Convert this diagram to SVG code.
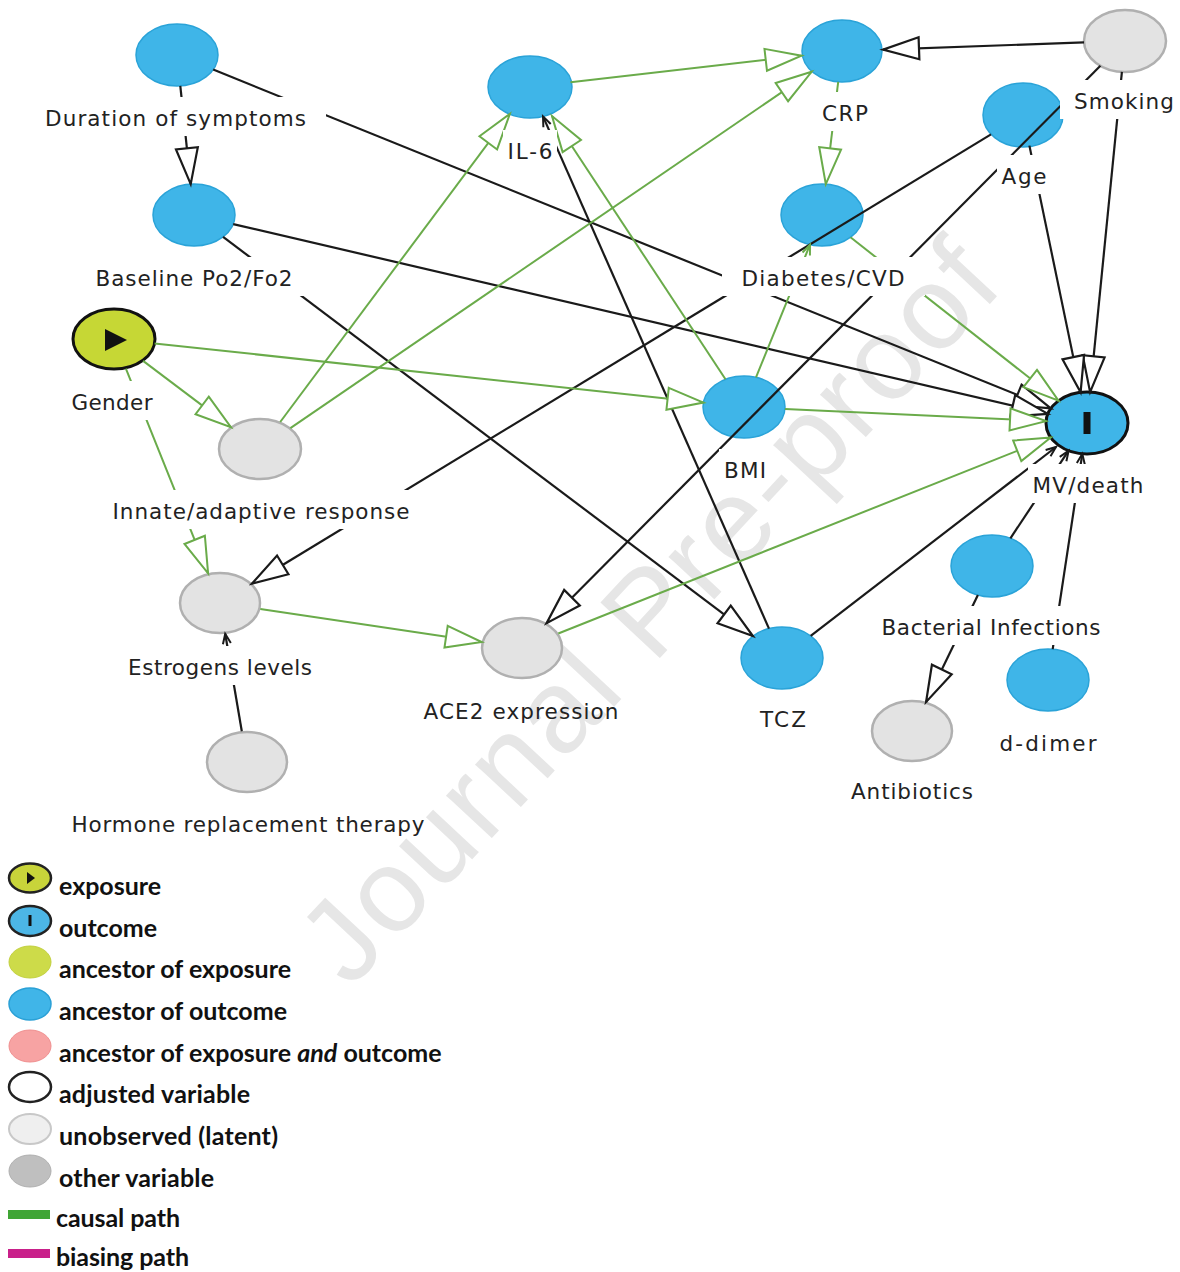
<svg xmlns="http://www.w3.org/2000/svg" width="1180" height="1272" viewBox="0 0 1180 1272">
<style>
.eb{stroke:#1a1a1a;stroke-width:2.2;fill:none}
.eg{stroke:#6aab4a;stroke-width:2;fill:none}
.nb{fill:#3fb5e8;stroke:#2aa3d8;stroke-width:1.5}
.nl{fill:#e3e3e3;stroke:#b0b0b0;stroke-width:2.5}
.bg{fill:#fff}
.lab{font-family:"DejaVu Sans",sans-serif;font-size:21.5px;fill:#222;text-anchor:middle}
.leg{font-family:Lato,"Liberation Sans",sans-serif;font-weight:700;font-size:25px;fill:#111}
</style>
<defs>
<marker id="ab" markerUnits="userSpaceOnUse" markerWidth="40" markerHeight="28" refX="36" refY="11" orient="auto" overflow="visible"><path d="M0,0 L36,11 L0,22 Z" fill="#fff" stroke="#1a1a1a" stroke-width="2.2"/></marker>
<marker id="ag" markerUnits="userSpaceOnUse" markerWidth="40" markerHeight="28" refX="36" refY="11" orient="auto" overflow="visible"><path d="M0,0 L36,11 L0,22 Z" fill="#fff" stroke="#6aab4a" stroke-width="2"/></marker>
<marker id="sb" markerUnits="userSpaceOnUse" markerWidth="12" markerHeight="10" refX="10" refY="4" orient="auto" overflow="visible"><path d="M0,0 L10,4 L0,8" fill="none" stroke="#1a1a1a" stroke-width="2"/></marker>
<marker id="sg" markerUnits="userSpaceOnUse" markerWidth="12" markerHeight="10" refX="10" refY="4" orient="auto" overflow="visible"><path d="M0,0 L10,4 L0,8" fill="none" stroke="#6aab4a" stroke-width="2"/></marker>
<mask id="labelMask" maskUnits="userSpaceOnUse" x="0" y="0" width="1180" height="1272">
<rect x="0" y="0" width="1180" height="1272" fill="#fff"/>
<g fill="#000">
<rect x="25" y="97" width="301" height="39"/>
<rect x="76" y="257" width="237" height="39"/>
<rect x="55" y="381" width="110" height="39"/>
<rect x="93" y="490" width="337" height="39"/>
<rect x="108" y="646" width="224" height="39"/>
<rect x="52" y="803" width="393" height="39"/>
<rect x="503" y="130" width="54" height="39"/>
<rect x="817" y="92" width="56" height="39"/>
<rect x="1060" y="80" width="120" height="39"/>
<rect x="997" y="155" width="55" height="39"/>
<rect x="722" y="257" width="203" height="39"/>
<rect x="719" y="449" width="52" height="39"/>
<rect x="1028" y="464" width="121" height="39"/>
<rect x="867" y="606" width="249" height="39"/>
<rect x="985" y="722" width="127" height="39"/>
<rect x="836" y="770" width="152" height="39"/>
<rect x="755" y="698" width="56" height="39"/>
<rect x="404" y="690" width="235" height="39"/>
</g>
</mask>
</defs>
<rect x="0" y="0" width="1180" height="1272" fill="#fff"/>
<g id="watermark" transform="translate(647,610) rotate(-47)">
<text x="0" y="42" text-anchor="middle" font-family="'Liberation Sans',sans-serif" font-size="118" fill="#e6e6e6" textLength="960">Journal Pre-proof</text>
</g>
<g id="node-duration"><ellipse class="nb" cx="177" cy="55" rx="41" ry="31"/><text class="lab" x="175.5" y="126" textLength="261">Duration of symptoms</text></g>
<g id="node-baseline"><ellipse class="nb" cx="194" cy="215" rx="41" ry="31"/><text class="lab" x="194" y="286" textLength="197">Baseline Po2/Fo2</text></g>
<g id="node-gender"><ellipse cx="114" cy="339" rx="41" ry="30" fill="#c6d735" stroke="#111" stroke-width="3"/><path d="M105,329 L127,340 L105,351 Z" fill="#111"/><text class="lab" x="112" y="410" textLength="81">Gender</text></g>
<g id="node-innate"><ellipse class="nl" cx="260" cy="449" rx="41" ry="30"/><text class="lab" x="261" y="519" textLength="297">Innate/adaptive response</text></g>
<g id="node-estrogens"><ellipse class="nl" cx="220" cy="603" rx="40" ry="30"/><text class="lab" x="220" y="675" textLength="184">Estrogens levels</text></g>
<g id="node-hrt"><ellipse class="nl" cx="247" cy="762" rx="40" ry="30"/><text class="lab" x="248" y="832" textLength="353">Hormone replacement therapy</text></g>
<g id="node-il6"><ellipse class="nb" cx="530" cy="87" rx="42" ry="31"/><text class="lab" x="530" y="159" textLength="45">IL-6</text></g>
<g id="node-crp"><ellipse class="nb" cx="842" cy="51" rx="40" ry="31"/><text class="lab" x="845" y="121" textLength="46">CRP</text></g>
<g id="node-age"><ellipse class="nb" cx="1023" cy="115" rx="40" ry="32"/><text class="lab" x="1024" y="184" textLength="45">Age</text></g>
<g id="node-smoking"><ellipse class="nl" cx="1125" cy="41" rx="41" ry="31"/><rect class="bg" x="1060" y="80" width="120" height="39"/><text class="lab" x="1124" y="109" textLength="100">Smoking</text></g>
<g id="node-diabetes"><ellipse class="nb" cx="822" cy="215" rx="41" ry="31"/><text class="lab" x="823" y="286" textLength="163">Diabetes/CVD</text></g>
<g id="node-bmi"><ellipse class="nb" cx="744" cy="407" rx="41" ry="31"/><text class="lab" x="745" y="478" textLength="42">BMI</text></g>
<g id="node-mvdeath"><ellipse cx="1087" cy="423" rx="41" ry="31" fill="#3fb5e8" stroke="#111" stroke-width="3"/><rect x="1083.5" y="412" width="7" height="22" fill="#111"/><text class="lab" x="1088" y="493" textLength="111">MV/death</text></g>
<g id="node-bacterial"><ellipse class="nb" cx="992" cy="566" rx="41" ry="31"/><text class="lab" x="991" y="635" textLength="219">Bacterial Infections</text></g>
<g id="node-ddimer"><ellipse class="nb" cx="1048" cy="680" rx="41" ry="31"/><text class="lab" x="1048" y="751" textLength="97">d-dimer</text></g>
<g id="node-antibiotics"><ellipse class="nl" cx="912" cy="731" rx="40" ry="30"/><text class="lab" x="912" y="799" textLength="122">Antibiotics</text></g>
<g id="node-tcz"><ellipse class="nb" cx="782" cy="658" rx="41" ry="31"/><text class="lab" x="783" y="727" textLength="46">TCZ</text></g>
<g id="node-ace2"><ellipse class="nl" cx="522" cy="648" rx="40" ry="30"/><text class="lab" x="521" y="719" textLength="195">ACE2 expression</text></g>
<g id="connectors" mask="url(#labelMask)">
<path class="eb" d="M180.3,85.9 L190.7,184.1" marker-end="url(#ab)"/>
<path class="eb" d="M213.2,69.6 L1050.8,408.4" marker-end="url(#ab)"/>
<path class="eb" d="M233.2,224.1 L1047.8,413.9" marker-end="url(#ab)"/>
<path class="eb" d="M223.1,236.9 L752.9,636.1" marker-end="url(#ab)"/>
<path class="eb" d="M769,628.6 L543,116.4" marker-end="url(#sb)"/>
<path class="eb" d="M1084,42.4 L883,49.6" marker-end="url(#ab)"/>
<path class="eb" d="M1121.9,71.9 L1090.1,392.1" marker-end="url(#ab)"/>
<path class="eb" d="M1100.4,65.8 L546.6,623.2" marker-end="url(#ab)"/>
<path class="eb" d="M1029.4,145.6 L1080.6,392.4" marker-end="url(#ab)"/>
<path class="eb" d="M991,134.4 L252,583.6" marker-end="url(#ab)"/>
<path class="eb" d="M810.7,635.9 L1056,447" marker-end="url(#sb)"/>
<path class="eb" d="M1010.4,538.3 L1068.6,450.7" marker-end="url(#sb)"/>
<path class="eb" d="M1052.7,649.2 L1082.3,453.8" marker-end="url(#sb)"/>
<path class="eb" d="M977.9,595.1 L926.1,701.9" marker-end="url(#ab)"/>
<path class="eb" d="M241.8,731.2 L225.2,633.8" marker-end="url(#sb)"/>
<path class="eg" d="M154.6,343.4 L703.4,402.6" marker-end="url(#ag)"/>
<path class="eg" d="M143.1,360.9 L230.9,427.1" marker-end="url(#ag)"/>
<path class="eg" d="M125.9,368.7 L208.1,573.3" marker-end="url(#ag)"/>
<path class="eg" d="M280.2,422 L509.8,114" marker-end="url(#ag)"/>
<path class="eg" d="M290.4,428.2 L811.6,71.8" marker-end="url(#ag)"/>
<path class="eg" d="M570.5,82.3 L801.5,55.7" marker-end="url(#ag)"/>
<path class="eg" d="M838.2,81.9 L825.8,184.1" marker-end="url(#ag)"/>
<path class="eg" d="M725.5,379.3 L552,116" marker-end="url(#ag)"/>
<path class="eg" d="M756,377.3 L810,244.7" marker-end="url(#sg)"/>
<path class="eg" d="M850.5,237.3 L1058.5,400.7" marker-end="url(#ag)"/>
<path class="eg" d="M785,408.9 L1046,421.1" marker-end="url(#ag)"/>
<path class="eg" d="M558.3,633.5 L1050.7,437.5" marker-end="url(#ag)"/>
<path class="eg" d="M260.3,609 L481.7,642" marker-end="url(#ag)"/>
</g>
<g id="legend">
<ellipse cx="30" cy="878" rx="21" ry="14.5" fill="#c8d43a" stroke="#222" stroke-width="2.5"/>
<path d="M27,872 L35,878 L27,884 Z" fill="#111"/>
<text class="leg" x="59" y="895" textLength="102">exposure</text>
<ellipse cx="30" cy="921" rx="21" ry="15" fill="#4cb6e6" stroke="#222" stroke-width="2.5"/>
<rect x="28.5" y="915" width="3" height="11" fill="#111"/>
<text class="leg" x="59" y="937" textLength="98">outcome</text>
<ellipse cx="30" cy="962" rx="21" ry="16" fill="#cddb49" stroke="#c2d03e" stroke-width="1"/>
<text class="leg" x="59" y="978" textLength="232">ancestor of exposure</text>
<ellipse cx="30" cy="1004" rx="21" ry="16" fill="#40b5e8" stroke="#2aa0d6" stroke-width="1.5"/>
<text class="leg" x="59" y="1020" textLength="228">ancestor of outcome</text>
<ellipse cx="30" cy="1046" rx="21" ry="16" fill="#f7a3a3" stroke="#f08f8f" stroke-width="1"/>
<text class="leg" x="59" y="1062">ancestor of exposure <tspan font-style="italic">and</tspan> outcome</text>
<ellipse cx="30" cy="1087" rx="21" ry="15" fill="#fff" stroke="#222" stroke-width="2.5"/>
<text class="leg" x="59" y="1103" textLength="191">adjusted variable</text>
<ellipse cx="30" cy="1129" rx="21" ry="15" fill="#efefef" stroke="#c8c8c8" stroke-width="2"/>
<text class="leg" x="59" y="1145" textLength="219">unobserved (latent)</text>
<ellipse cx="30" cy="1171" rx="21" ry="16" fill="#bfbfbf" stroke="#b0b0b0" stroke-width="1"/>
<text class="leg" x="59" y="1187" textLength="155">other variable</text>
<rect x="8" y="1210" width="42" height="9" fill="#3fa535"/>
<text class="leg" x="56" y="1227" textLength="124">causal path</text>
<rect x="8" y="1249" width="42" height="9" fill="#c9208a"/>
<text class="leg" x="56" y="1266" textLength="133">biasing path</text>
</g>
</svg>
